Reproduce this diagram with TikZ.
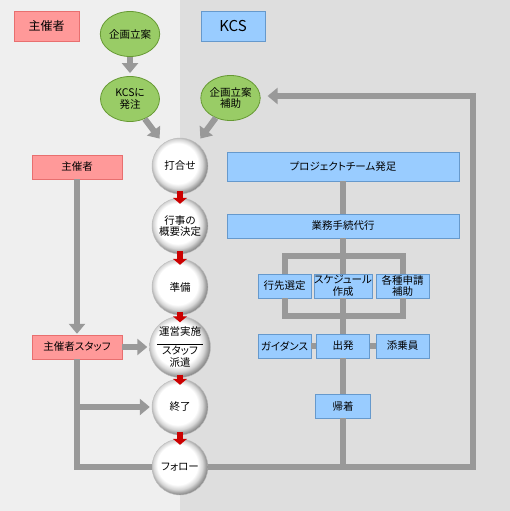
\documentclass[tikz,border=0pt]{standalone}
\usepackage{fontspec}
\newfontfamily\jpfont[RawFeature={+palt}]{Noto Sans CJK JP}
\usetikzlibrary{arrows.meta, shapes, positioning}

\definecolor{leftbg}{HTML}{EFEFEF}
\definecolor{rightbg}{HTML}{DEDEDE}
\definecolor{flowgray}{HTML}{999999}
\definecolor{hostfill}{HTML}{FF9999}
\definecolor{hostline}{HTML}{E86F6F}
\definecolor{kcsfill}{HTML}{99CCFF}
\definecolor{kcsline}{HTML}{6699CC}
\definecolor{planfill}{HTML}{99CC66}
\definecolor{planline}{HTML}{669933}
\definecolor{stepred}{HTML}{CC0000}

\pgfdeclareradialshading{orbshade}{\pgfpoint{-3.5bp}{3.5bp}}{color(0bp)=(white); color(18bp)=(white); color(22bp)=(black!16); color(25bp)=(black!38); color(28bp)=(black!55); color(50bp)=(black!55)}

\tikzset{
  every node/.style={font=\jpfont\fontsize{10.5}{11.5}\selectfont, align=center, inner sep=0pt},
  orb/.style={circle, minimum size=56pt, shading=orbshade, draw=black!25, line width=0.4pt},
  plan/.style={ellipse, draw=planline, fill=planfill, minimum width=59pt, minimum height=45pt, line width=0.8pt},
  hostbox/.style={draw=hostline, fill=hostfill, minimum width=90pt, minimum height=24pt},
  kcsbox/.style={draw=kcsline, fill=kcsfill, minimum height=24pt},
  flow/.style={draw=flowgray, line width=6pt},
  flowto/.style={flow, -{Triangle[length=10pt,width=16pt]}},
  redstep/.style={draw=stepred, line width=6pt, -{Triangle[length=6pt,width=14pt]}, shorten <=-3pt, shorten >=-6pt},
}

\begin{document}
\begin{tikzpicture}[x=1pt, y=1pt]
  \useasboundingbox (0,0) rectangle (510,-511);

  % Background
  \fill[leftbg] (0,0) rectangle (180,-511);
  \fill[rightbg] (180,0) rectangle (510,-511);

  % Headers
  \node[hostbox, minimum width=65pt, minimum height=30pt, font=\jpfont\fontsize{12}{14}\selectfont] (host) at (46.5,-26) {主催者};
  \node[kcsbox, minimum width=64pt, minimum height=30pt, font=\jpfont\fontsize{15}{17}\selectfont] (kcs) at (233,-26) {KCS};

  % Planning
  \node[plan] (plan) at (130,-34) {企画立案};
  \node[plan] (order) at (130,-99) {KCSに\\発注};
  \node[plan] (assist) at (230.5,-98) {企画立案\\補助};

  % Steps
  \node[orb] (meet) at (180,-166) {打合せ};
  \node[orb] (outline) at (180,-226) {行事の\\概要決定};
  \node[orb] (prep) at (180,-287) {準備};
  \node[orb] (run) at (180,-347) {運営実施\\[-3pt]\rule{46pt}{0.5pt}\\[-1pt]スタッフ\\派遣};
  \node[orb] (close) at (180,-407) {終了};
  \node[orb] (follow) at (180,-467) {フォロー};

  % Host side
  \node[hostbox] (hostside) at (77,-167) {主催者};
  \node[hostbox] (staff) at (77,-347) {主催者スタッフ};

  % KCS side
  \node[kcsbox, minimum width=232pt, minimum height=29pt] (team) at (343,-166.5) {プロジェクトチーム発足};
  \node[kcsbox, minimum width=232pt] (proxy) at (343,-226) {業務手続代行};
  \node[kcsbox, minimum width=53pt] (dest) at (284.5,-286) {行先選定};
  \node[kcsbox, minimum width=53pt] (sched) at (343,-286) {スケジュール\\作成};
  \node[kcsbox, minimum width=53pt] (apply) at (402.5,-286) {各種申請\\補助};
  \node[kcsbox, minimum width=53pt] (guide) at (284.5,-346) {ガイダンス};
  \node[kcsbox, minimum width=53pt] (depart) at (343,-346) {出発};
  \node[kcsbox, minimum width=53pt] (escort) at (402.5,-346) {添乗員};
  \node[kcsbox, minimum width=55pt] (back) at (343,-406) {帰着};

  % Planning arrows
  \draw[flowto, shorten >=3pt] (plan) -- (order);
  \draw[flowto, shorten >=6pt] (order) -- (meet);
  \draw[flowto, shorten >=6pt] (assist) -- (meet);

  % Host arrows
  \draw[flowto, shorten >=1pt] (hostside) -- (staff);
  \draw[flowto, shorten >=2pt] (staff) -- (run);
  \draw[flow] (staff.south) |- (follow.west);
  \draw[flowto, shorten >=2pt] (staff.south |- close.west) -- (close.west);

  % Loop back
  \coordinate (loopcorner) at (473,-467);
  \draw[flowto, shorten >=7pt] (follow.east) -- (loopcorner) |- ([yshift=2pt]assist.east);

  % KCS lines
  \draw[flow] (team) -- (proxy);
  \draw[flow] (proxy) -- (sched);
  \draw[flow] (dest.north) -- ++(0,18) -| (apply.north);
  \draw[flow] (dest.south) -- ++(0,-17.5) -| (apply.south);
  \draw[flow] (sched) -- (depart);
  \draw[flow] (guide) -- (depart);
  \draw[flow] (depart) -- (escort);
  \draw[flow] (depart) -- (back);
  \draw[flow] (back.south) -- (back.south |- follow.east);

  % Red step arrows
  \draw[redstep] (meet.south) -- (outline.north);
  \draw[redstep] (outline.south) -- (prep.north);
  \draw[redstep] (prep.south) -- (run.north);
  \draw[redstep] (run.south) -- (close.north);
  \draw[redstep] (close.south) -- (follow.north);

\end{tikzpicture}
\end{document}
